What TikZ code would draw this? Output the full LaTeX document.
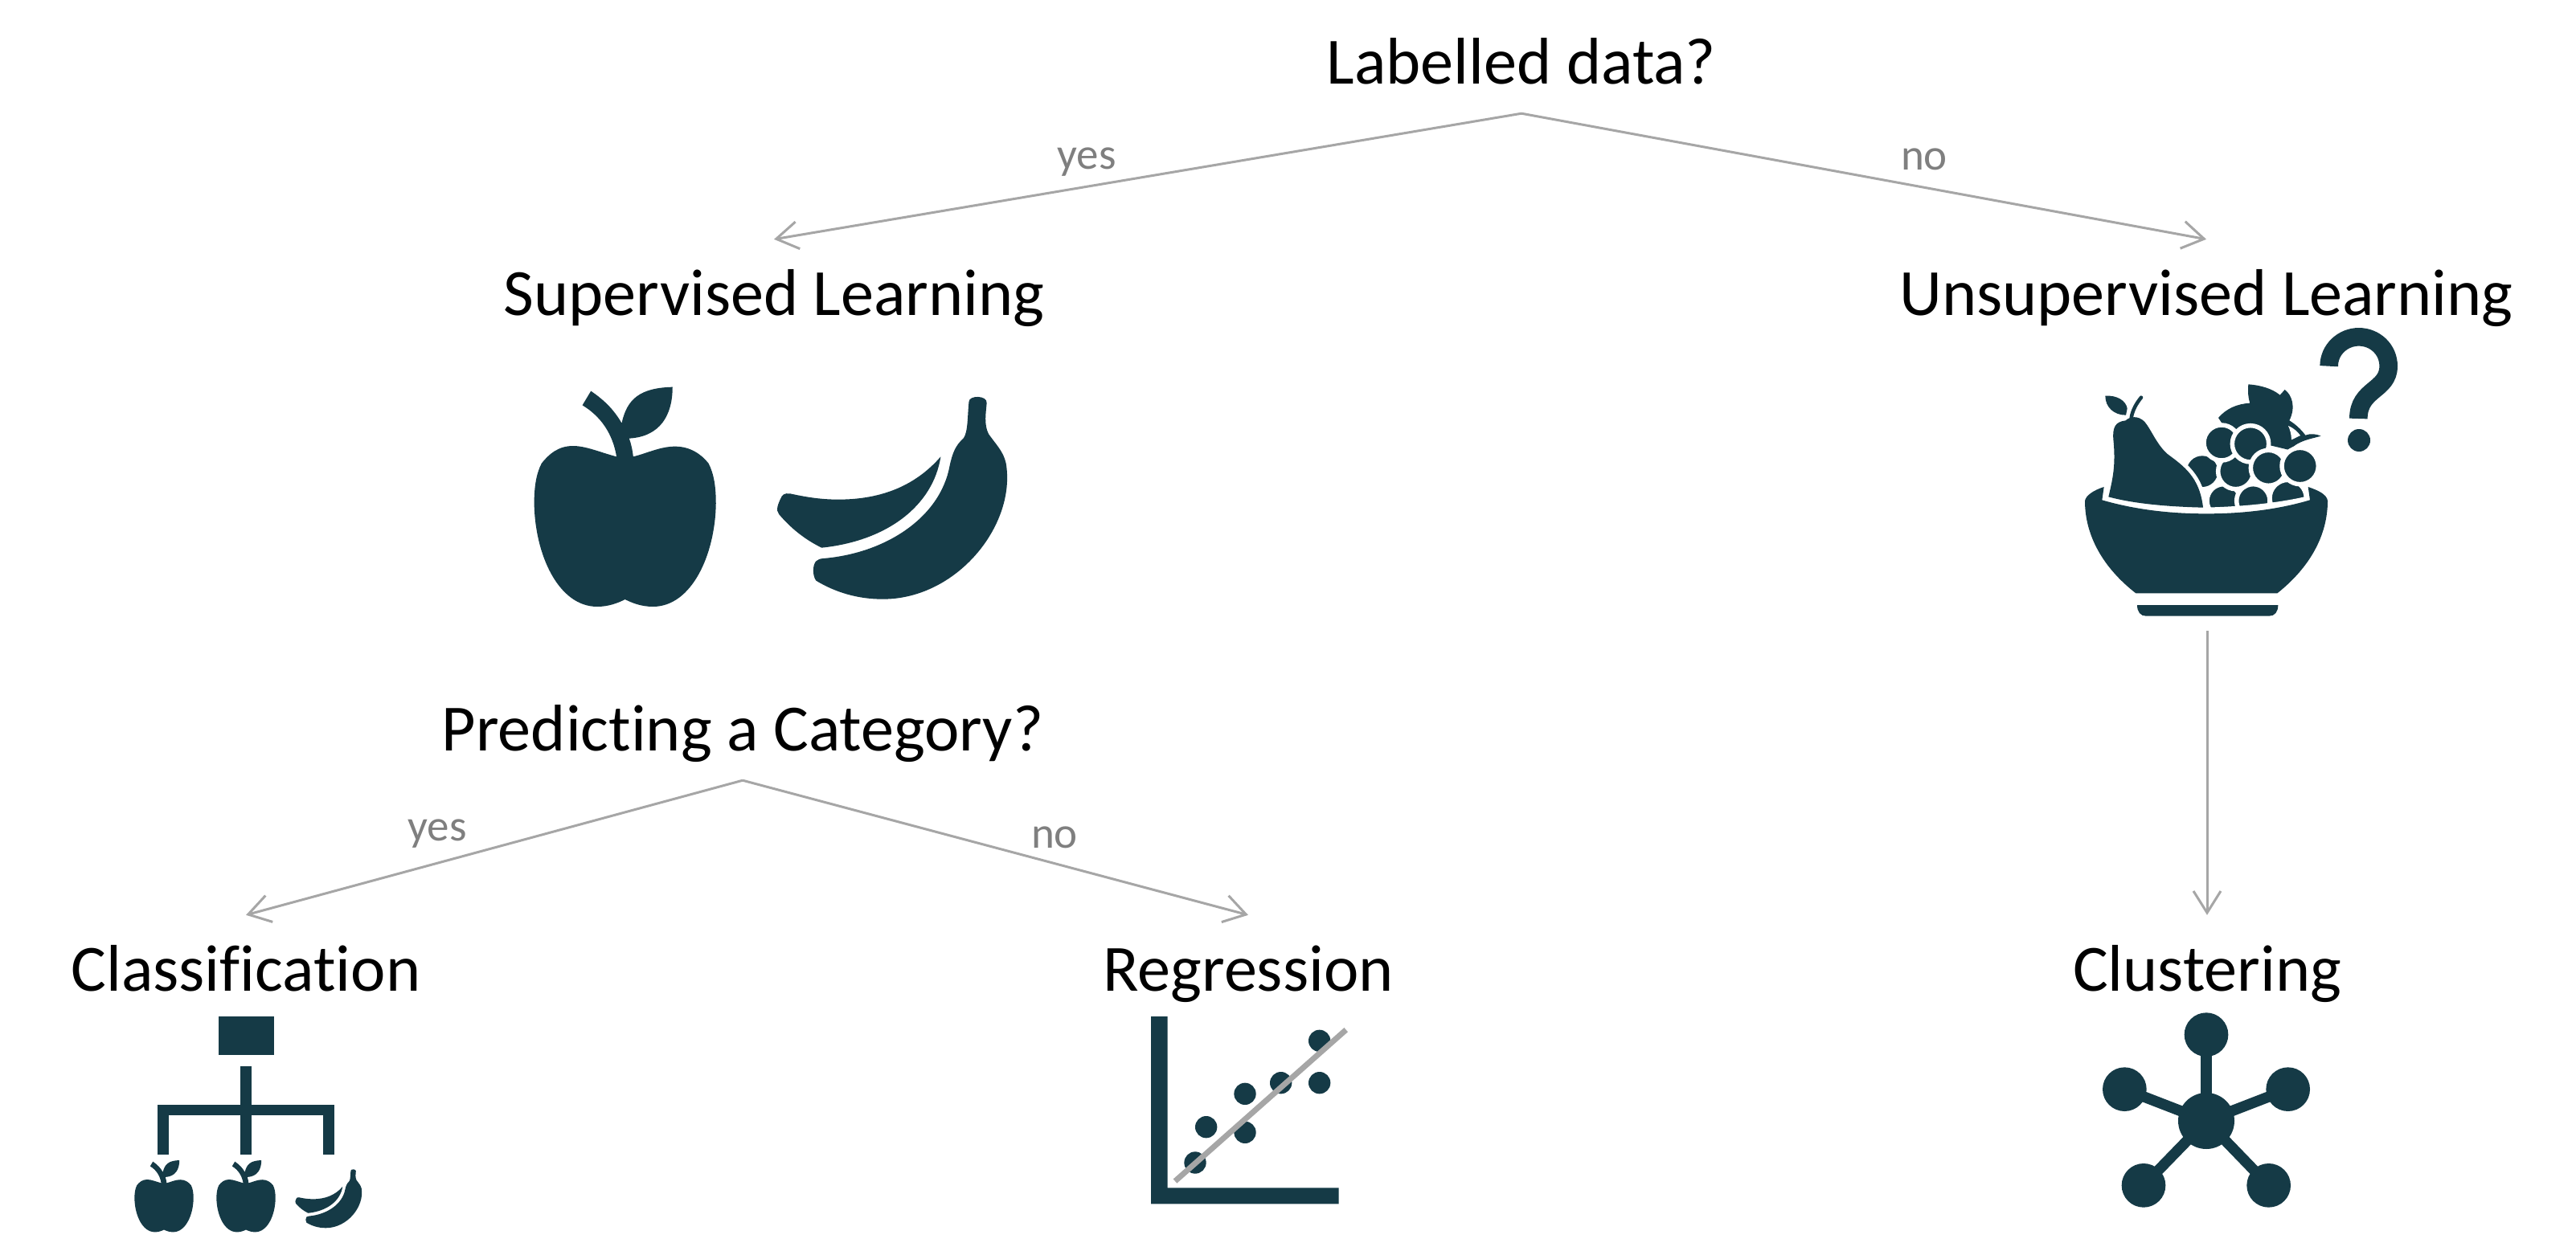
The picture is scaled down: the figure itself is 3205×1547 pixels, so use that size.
\documentclass[tikz,border=0pt]{standalone}
\usepackage{fontspec}
\setmainfont[Ligatures=NoCommon]{Carlito}
\usetikzlibrary{arrows.meta}
\definecolor{icon}{HTML}{153A46}
\definecolor{conn}{HTML}{A6A6A6}
\definecolor{lab}{HTML}{7F7F7F}
\newcommand\applepath{(362,385) .. controls (320,370) and (280,345) .. (245,345)
 .. controls (205,345) and (180,375) .. (160,410)
 .. controls (145,450) and (140,500) .. (140,560)
 .. controls (142,750) and (205,945) .. (310,945)
 .. controls (340,945) and (365,932) .. (385,918)
 .. controls (405,932) and (430,945) .. (460,945)
 .. controls (565,945) and (628,750) .. (630,560)
 .. controls (630,500) and (625,450) .. (610,410)
 .. controls (590,375) and (560,347) .. (520,347)
 .. controls (480,347) and (445,372) .. (407,385)
 .. controls (405,360) and (402,340) .. (396,317)
 .. controls (480,310) and (513,230) .. (513,125)
 .. controls (425,128) and (390,170) .. (376,260)
 .. controls (355,210) and (330,175) .. (293,140)
 -- (270,193)
 .. controls (320,235) and (352,300) .. (362,385) -- cycle}
\newcommand\bananapath{(1236,385) .. controls (1170,490) and (1080,545) .. (960,545)
 .. controls (910,545) and (870,535) .. (830,523)
 .. controls (815,520) and (808,528) .. (805,540)
 .. controls (798,560) and (790,585) .. (800,600)
 .. controls (830,650) and (870,695) .. (915,725)
 .. controls (1090,700) and (1215,570) .. (1236,385) -- cycle
 (1312,180) .. controls (1312,155) and (1362,155) .. (1360,185)
 .. controls (1358,220) and (1352,265) .. (1365,300)
 .. controls (1385,340) and (1405,365) .. (1412,410)
 .. controls (1440,640) and (1280,917) .. (1080,917)
 .. controls (1010,917) and (950,890) .. (900,848)
 .. controls (890,830) and (890,790) .. (900,775)
 .. controls (905,768) and (912,766) .. (920,765)
 .. controls (1090,745) and (1235,610) .. (1260,420)
 .. controls (1268,370) and (1275,345) .. (1298,315)
 .. controls (1310,290) and (1308,230) .. (1312,180) -- cycle}
\tikzset{
 conlabel/.style={font=\fontsize{82.2}{99}\selectfont,inner sep=0pt,anchor=base,text height=94pt,text depth=37pt},
 edgelab/.style={font=\fontsize{55}{66}\selectfont,text=lab,inner sep=0pt},
 arrowline/.style={draw=conn,line width=3pt,-{Straight Barb[length=27pt,width=34pt,line width=3pt]}},
 grape/.style={fill=icon,draw=white,line width=5.5pt}
}
\begin{document}
\begin{tikzpicture}[x=1pt,y=-1pt]
\useasboundingbox[fill=white] (0,0) rectangle (3205,1547);
% labels
\node[conlabel] (q1) at (1893,104) {Labelled data?};
\node[conlabel] (sup) at (963,392) {Supervised Learning};
\node[conlabel] (uns) at (2745,392) {Unsupervised Learning};
\node[conlabel] (q2) at (924,934) {Predicting a Category?};
\node[conlabel] (cla) at (306,1233) {Classification};
\node[conlabel] (reg) at (1553,1233) {Regression};
\node[conlabel] (clu) at (2746,1233) {Clustering};
\node[edgelab] (y1) at (1352,202) {yes};
\node[edgelab] (n1) at (2394,198) {no};
\node[edgelab] (y2) at (544,1038) {yes};
\node[edgelab] (n2) at (1312,1042) {no};
\coordinate (bowlbase) at (2746,785);
% connectors
\draw[arrowline] (q1.south) -- (sup.north);
\draw[arrowline] (q1.south) -- (uns.north);
\draw[arrowline] (q2.south) -- (cla.north);
\draw[arrowline] (q2.south) -- (reg.north);
\draw[arrowline] (bowlbase) -- (clu.north);
% big apple + banana
\begin{scope}[shift={(600,440)},xscale=.4615,yscale=1/3]
 \fill[icon] \applepath;
 \fill[icon] \bananapath;
\end{scope}
% fruit bowl
\begin{scope}[shift={(2540,390)},scale=1/3]
 \draw[icon,line width=22.6pt] (1073,197) .. controls (1073,135) and (1125,88) .. (1184,88)
   .. controls (1245,88) and (1295,135) .. (1295,197)
   .. controls (1295,290) and (1183,280) .. (1183,393);
 \fill[icon] (1185,474) circle (42);
 % back of the grape bunch
 \fill[icon] (600,590) circle (58);
 \fill[icon] (660,390) .. controls (690,355) and (730,338) .. (778,335)
   .. controls (770,310) and (770,290) .. (772,265)
   .. controls (815,268) and (860,280) .. (890,305) -- (908,285)
   .. controls (935,305) and (950,350) .. (925,400)
   .. controls (950,415) and (970,435) .. (985,455)
   .. controls (1005,448) and (1025,450) .. (1043,458)
   .. controls (1000,470) and (960,475) .. (925,510)
   -- (800,480) -- (680,420) -- cycle;
 \fill[white] (921,420) .. controls (945,430) and (958,445) .. (966,456) -- (933,472) .. controls (932,450) and (928,435) .. (921,420) -- cycle;
 \path[grape] (680,700) circle (62);
 \path[grape] (790,700) circle (62);
 \path[grape] (920,690) circle (68);
 \path[grape] (725,590) circle (66);
 \path[grape] (672,483) circle (66);
 \path[grape] (780,487) circle (68);
 \path[grape] (847,577) circle (66);
 \path[grape] (965,570) circle (68);
 % pear
 \draw[icon,line cap=round,line width=4.5pt] (335,390) .. controls (340,360) and (355,335) .. (372,314);
 \fill[icon] (238,308) .. controls (280,305) and (315,325) .. (320,355) -- (315,380) .. controls (270,380) and (238,350) .. (238,308) -- cycle;
 \draw[white,line width=10pt] (470,525) .. controls (530,570) and (590,610) .. (603,725);
 \fill[icon] (250,685) .. controls (265,620) and (278,570) .. (268,470)
   .. controls (265,425) and (275,405) .. (314,400)
   .. controls (330,385) and (360,380) .. (385,405)
   .. controls (410,435) and (430,490) .. (470,525)
   .. controls (530,570) and (590,610) .. (603,725)
   .. controls (480,722) and (350,712) .. (250,685) -- cycle;
 % white band under the grapes, and bowl
 \fill[white] (605,725) .. controls (740,722) and (870,710) .. (982,685) -- (1002,700) -- (1002,760) -- (605,760) -- cycle;
 \fill[white] (982,640) -- (996,640) -- (1002,700) -- (980,700) -- cycle;
 \fill[icon] (162,700) .. controls (165,680) and (195,660) .. (233,648) -- (226,697)
   .. controls (350,733) and (480,748) .. (615,748)
   .. controls (750,748) and (880,733) .. (1002,697) -- (995,648)
   .. controls (1030,660) and (1065,675) .. (1068,700)
   .. controls (1068,830) and (1000,950) .. (880,1045) -- (352,1045)
   .. controls (230,950) and (162,830) .. (162,700) -- cycle;
 \fill[icon] (357,1089) -- (883,1089) .. controls (883,1115) and (870,1130) .. (850,1130)
   -- (390,1130) .. controls (370,1130) and (357,1115) .. (357,1089) -- cycle;
\end{scope}
% classification icon
\fill[icon] (271.7,1265) rectangle (340.7,1313.3);
\fill[icon] (299,1327.3) rectangle (312.7,1436.7);
\fill[icon] (196,1375) rectangle (416,1388.3);
\fill[icon] (196,1375) rectangle (209.7,1436.7);
\fill[icon] (402.3,1375) rectangle (416,1436.7);
\begin{scope}[shift={(146.4,1430.4)},xscale=.1497,yscale=.109]
 \fill[icon] \applepath;
\end{scope}
\begin{scope}[shift={(248.4,1430.4)},xscale=.1497,yscale=.109]
 \fill[icon] \applepath;
\end{scope}
\begin{scope}[shift={(261,1439.7)},xscale=.1337,yscale=.0966]
 \fill[icon] \bananapath;
\end{scope}
% regression icon
\begin{scope}[shift={(1400,1250)},scale=1/3]
 \fill[icon] (96,45) -- (158,45) -- (158,685) -- (797,685) -- (797,745) -- (96,745) -- cycle;
 \fill[icon] (725,136) circle (41);
 \fill[icon] (725,293) circle (41);
 \fill[icon] (581,293) circle (41);
 \fill[icon] (447,334) circle (41);
 \fill[icon] (302,458) circle (41);
 \fill[icon] (447,478) circle (41);
 \fill[icon] (261,591) circle (41);
 \draw[conn,line width=7pt] (186,660) -- (824,95);
\end{scope}
% clustering icon
\begin{scope}[shift={(2600,1250)},scale=1/3]
 \draw[icon,line width=13.3pt] (435,435) -- (435,113);
 \draw[icon,line width=13.3pt] (435,435) -- (130,317);
 \draw[icon,line width=13.3pt] (435,435) -- (740,317);
 \draw[icon,line width=13.3pt] (435,435) -- (201,676);
 \draw[icon,line width=13.3pt] (435,435) -- (668,676);
 \fill[icon] (435,435) circle (105);
 \fill[icon] (435,113) circle (82);
 \fill[icon] (130,317) circle (82);
 \fill[icon] (740,317) circle (82);
 \fill[icon] (201,676) circle (82);
 \fill[icon] (668,676) circle (82);
\end{scope}
\end{tikzpicture}
\end{document}
